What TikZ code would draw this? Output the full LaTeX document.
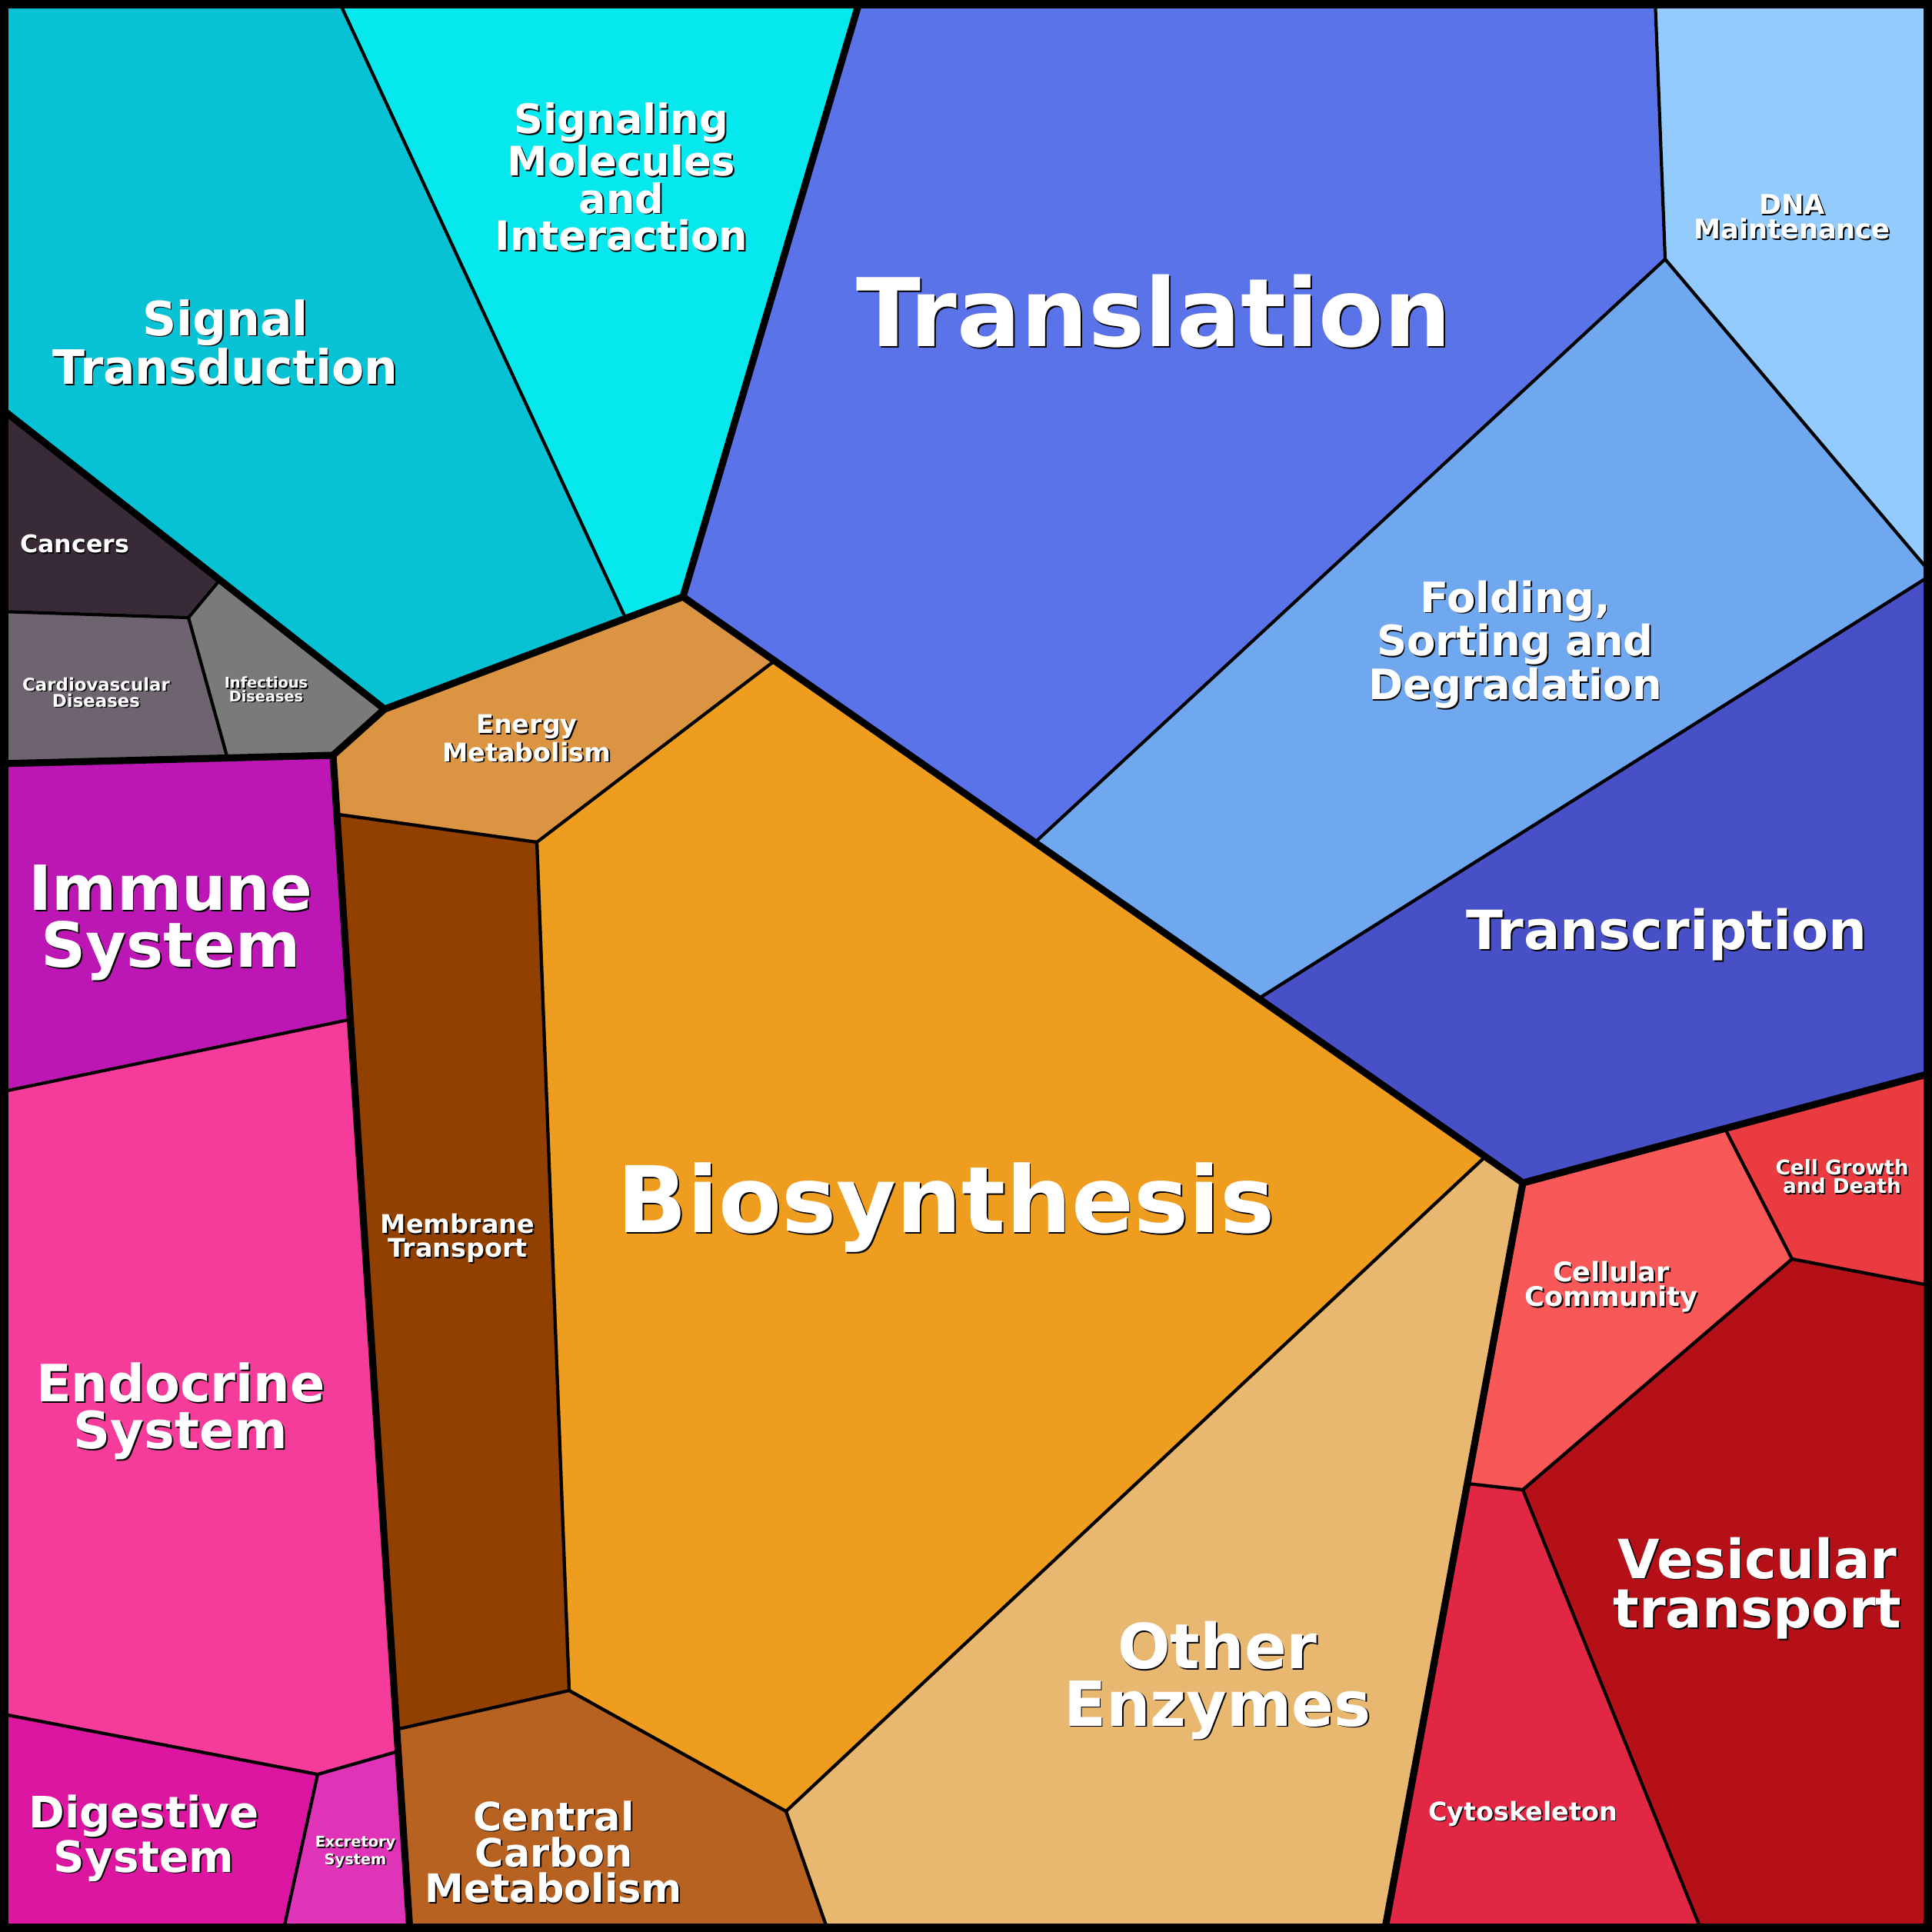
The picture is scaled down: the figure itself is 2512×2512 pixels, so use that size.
\documentclass[tikz,border=0pt]{standalone}
\usepackage{fontspec}
\setmainfont{DejaVu Sans}
\usetikzlibrary{positioning}
% region colours
\definecolor{sigtr}{HTML}{06C2D4}
\definecolor{sigmol}{HTML}{05E8EE}
\definecolor{transl}{HTML}{5A73E8}
\definecolor{dnam}{HTML}{92CBFC}
\definecolor{fold}{HTML}{70A8F0}
\definecolor{transc}{HTML}{4850C8}
\definecolor{cgrow}{HTML}{EA3B40}
\definecolor{ccomm}{HTML}{F85858}
\definecolor{vesic}{HTML}{B51018}
\definecolor{cytos}{HTML}{E22744}
\definecolor{othenz}{HTML}{E8B870}
\definecolor{biosyn}{HTML}{EE9D1E}
\definecolor{energy}{HTML}{DA9442}
\definecolor{membr}{HTML}{924000}
\definecolor{ccarb}{HTML}{B86222}
\definecolor{cancer}{HTML}{382A36}
\definecolor{cardio}{HTML}{6E6470}
\definecolor{infect}{HTML}{7A7A7A}
\definecolor{immune}{HTML}{BC16B4}
\definecolor{endo}{HTML}{F63C9A}
\definecolor{digest}{HTML}{DC16A0}
\definecolor{excr}{HTML}{E034B8}
\tikzset{
  cell/.style={draw=black, line width=1.2pt, line join=round},
  group/.style={draw=black, line width=2.6pt, line cap=round, line join=round},
  lbl/.style={text=white, font=\bfseries, align=center, inner sep=0pt},
}
% label with a dark drop shadow
\newcommand{\lbl}[4]{%
  \node[lbl, text=black, font=\fontsize{#2}{0.92\dimexpr#2\relax}\bfseries, xshift=0.5pt, yshift=-0.5pt] at #1 {#4};
  \node[lbl, font=\fontsize{#2}{0.92\dimexpr#2\relax}\bfseries] (#3) at #1 {#4};}
\begin{document}
\begin{tikzpicture}[x=0.01cm, y=-0.01cm]
  \useasboundingbox (0,0) rectangle (2512,2512);
  % cells
  \fill[cell, sigtr] (0,0) -- (440,0) -- (813,803) -- (500,922) -- (285,755) -- (0,530) -- cycle;
  \fill[cell, sigmol] (440,0) -- (1118,0) -- (888,776) -- (813,803) -- cycle;
  \fill[cell, transl] (1118,0) -- (2152,0) -- (2165,337) -- (1346,1095) -- (1006,860) -- (888,776) -- cycle;
  \fill[cell, dnam] (2152,0) -- (2512,0) -- (2512,747) -- (2165,337) -- cycle;
  \fill[cell, fold] (2165,337) -- (2512,747) -- (1637,1298) -- (1346,1095) -- cycle;
  \fill[cell, transc] (2512,747) -- (2512,1395) -- (1980,1538) -- (1930,1505) -- (1637,1298) -- cycle;
  \fill[cell, cgrow] (2242,1466) -- (2512,1395) -- (2512,1672) -- (2330,1637) -- cycle;
  \fill[cell, ccomm] (1980,1538) -- (2242,1466) -- (2330,1637) -- (1980,1937) -- (1908,1929) -- cycle;
  \fill[cell, vesic] (2330,1637) -- (2512,1672) -- (2512,2512) -- (2213,2512) -- (1980,1937) -- cycle;
  \fill[cell, cytos] (1908,1929) -- (1980,1937) -- (2213,2512) -- (1800,2512) -- cycle;
  \fill[cell, othenz] (1930,1505) -- (1980,1538) -- (1800,2512) -- (1077,2512) -- (1022,2355) -- cycle;
  \fill[cell, biosyn] (1006,860) -- (1346,1095) -- (1637,1298) -- (1930,1505) -- (1022,2355) -- (740,2198) -- (698,1095) -- cycle;
  \fill[cell, energy] (888,776) -- (1006,860) -- (698,1095) -- (440,1059) -- (433,982) -- (500,922) -- cycle;
  \fill[cell, membr] (440,1059) -- (698,1095) -- (740,2198) -- (518,2248) -- cycle;
  \fill[cell, ccarb] (518,2248) -- (740,2198) -- (1022,2355) -- (1077,2512) -- (533,2512) -- cycle;
  \fill[cell, cancer] (0,530) -- (285,755) -- (245,803) -- (0,795) -- cycle;
  \fill[cell, cardio] (0,795) -- (245,803) -- (295,983) -- (0,993) -- cycle;
  \fill[cell, infect] (245,803) -- (285,755) -- (500,922) -- (433,982) -- (295,983) -- cycle;
  \fill[cell, immune] (0,993) -- (433,982) -- (453,1326) -- (0,1420) -- cycle;
  \fill[cell, endo] (0,1420) -- (453,1326) -- (518,2277) -- (413,2307) -- (0,2228) -- cycle;
  \fill[cell, digest] (0,2228) -- (413,2307) -- (368,2512) -- (0,2512) -- cycle;
  \fill[cell, excr] (413,2307) -- (518,2277) -- (533,2512) -- (368,2512) -- cycle;
  % cell borders
  \foreach \p in {
    {(440,0) -- (813,803)}, {(2152,0) -- (2165,337) -- (1346,1095)}, {(2165,337) -- (2512,747)},
    {(2242,1466) -- (2330,1637) -- (2512,1672)}, {(2330,1637) -- (1980,1937) -- (1908,1929)},
    {(1980,1937) -- (2213,2512)}, {(1930,1505) -- (1022,2355) -- (1077,2512)},
    {(1006,860) -- (698,1095) -- (740,2198) -- (1022,2355)}, {(440,1059) -- (698,1095)},
    {(518,2248) -- (740,2198)}, {(285,755) -- (245,803) -- (0,795)}, {(245,803) -- (295,983)},
    {(0,1420) -- (453,1326)}, {(0,2228) -- (413,2307) -- (518,2277)}, {(413,2307) -- (368,2512)},
    {(1637,1298) -- (2512,747)}}
    \draw[cell] \p;
  % group borders
  \draw[group] (1118,0) -- (888,776) -- (1980,1538) -- (2512,1395);
  \draw[group] (1980,1538) -- (1800,2512);
  \draw[group] (0,530) -- (500,922) -- (888,776);
  \draw[group] (500,922) -- (433,982) -- (533,2512);
  \draw[group] (433,982) -- (0,993);
  \draw[line width=6pt] (0,0) rectangle (2512,2512);
  % labels
  \lbl{(1500,405)}{35pt}{translation}{Translation}
  \lbl{(1230,1570)}{34pt}{biosynthesis}{Biosynthesis}
  \lbl{(293,445)}{17.5pt}{signaltr}{Signal\\Transduction}
  \lbl{(808,230)}{15pt}{signalmol}{Signaling\\Molecules\\and\\Interaction}
  \lbl{(2330,282)}{10pt}{dnamaint}{DNA\\Maintenance}
  \lbl{(1970,838)}{15.5pt}{folding}{Folding,\\Sorting and\\Degradation}
  \lbl{(2167,1215)}{20pt}{transcription}{Transcription}
  \lbl{(2395,1530)}{7.5pt}{cellgrowth}{Cell Growth\\and Death}
  \lbl{(2095,1673)}{10pt}{cellcomm}{Cellular\\Community}
  \lbl{(2285,2065)}{20pt}{vesicular}{Vesicular\\transport}
  \lbl{(1980,2358)}{9.5pt}{cytoskel}{Cytoskeleton}
  \lbl{(1583,2185)}{23pt}{otherenz}{Other\\Enzymes}
  \lbl{(685,960)}{9.5pt}{energymet}{Energy\\Metabolism}
  \lbl{(595,1610)}{9.5pt}{membrtr}{Membrane\\Transport}
  \lbl{(720,2408)}{14.5pt}{centralcarb}{Central\\Carbon\\Metabolism}
  \lbl{(97,707)}{9pt}{cancers}{Cancers}
  \lbl{(125,900)}{6.5pt}{cardiodis}{Cardiovascular\\Diseases}
  \lbl{(346,896)}{5.5pt}{infectdis}{Infectious\\Diseases}
  \lbl{(222,1200)}{23pt}{immunesys}{Immune\\System}
  \lbl{(235,1835)}{19pt}{endocrsys}{Endocrine\\System}
  \lbl{(187,2390)}{16pt}{digestsys}{Digestive\\System}
  \lbl{(462,2408)}{5.5pt}{excretsys}{Excretory\\System}
\end{tikzpicture}
\end{document}
